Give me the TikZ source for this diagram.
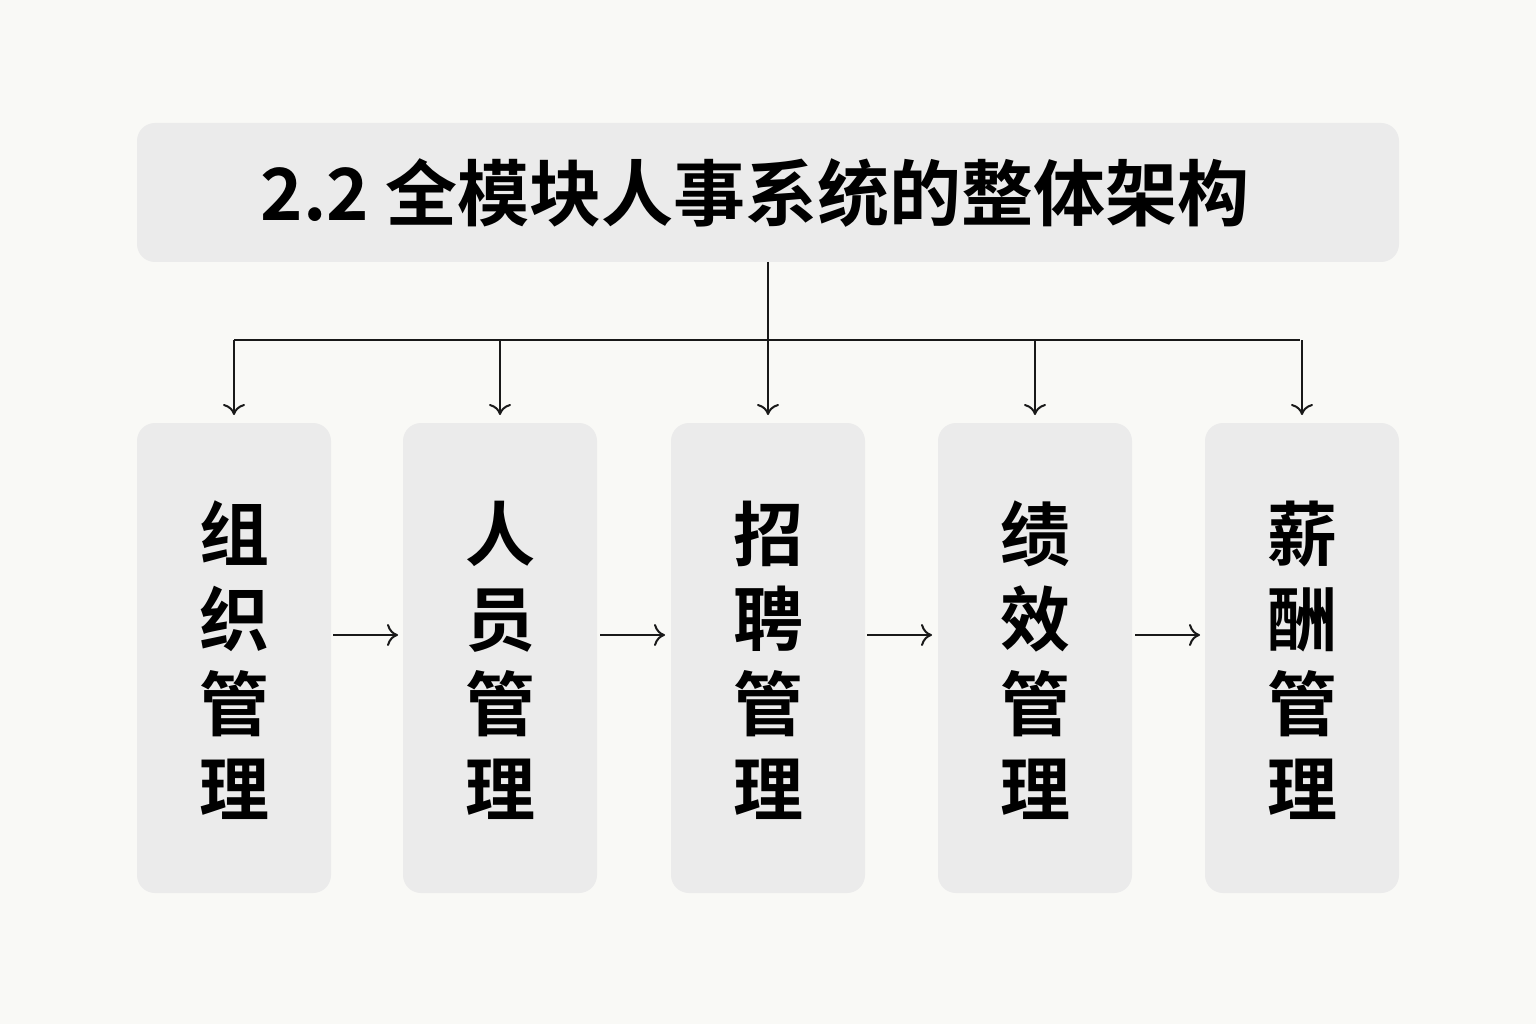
\documentclass[tikz,border=0pt]{standalone}
\usepackage{fontspec}
\newfontfamily\cjk{Noto Sans CJK SC Bold}
\usetikzlibrary{arrows.meta}
\definecolor{bg}{HTML}{F9F9F6}
\definecolor{boxc}{HTML}{EBEBEB}
\tikzset{
 panel/.style={fill=boxc,rounded corners=18pt,draw=none},
 conn/.style={line width=2pt,draw=black!90},
 arr/.style={conn,-{To[length=11pt,width=22pt,line width=2pt]}},
 lbl/.style={font=\cjk\fontsize{70}{85}\selectfont,align=center,inner sep=0pt}
}
\begin{document}
\begin{tikzpicture}[x=1pt,y=-1pt]
\fill[bg] (0,0) rectangle (1536,1024);
\useasboundingbox (0,0) rectangle (1536,1024);
\fill[panel] (137,123) rectangle (1399,262);
\node[inner sep=0pt,font=\cjk\fontsize{72}{76}\selectfont] (title) at (755,193) {2.2 全模块人事系统的整体架构};
\coordinate (top) at (768,262);
\coordinate (hub) at (768,340);
\coordinate (hl) at (234,340);
\coordinate (hr) at (1300,340);
\draw[conn] (top) -- (hub);
\draw[conn] (hl) -- (hr);
\foreach \i/\x/\t in {1/234/{组\\织\\管\\理},2/500/{人\\员\\管\\理},3/768/{招\\聘\\管\\理},4/1035/{绩\\效\\管\\理},5/1302/{薪\\酬\\管\\理}}{
 \fill[panel] (\x-97,423) rectangle (\x+97,893);
 \node[lbl] (b\i) at (\x,660) {\t};
 \coordinate (d\i) at (\x,340);
 \coordinate (e\i) at (\x,415);
 \draw[arr] (d\i) -- (e\i);
}
\foreach \x in {333,600,867,1135}{
 \coordinate (s) at (\x,635); \coordinate (t) at (\x+65,635);
 \draw[arr] (s) -- (t);
}
\end{tikzpicture}
\end{document}
